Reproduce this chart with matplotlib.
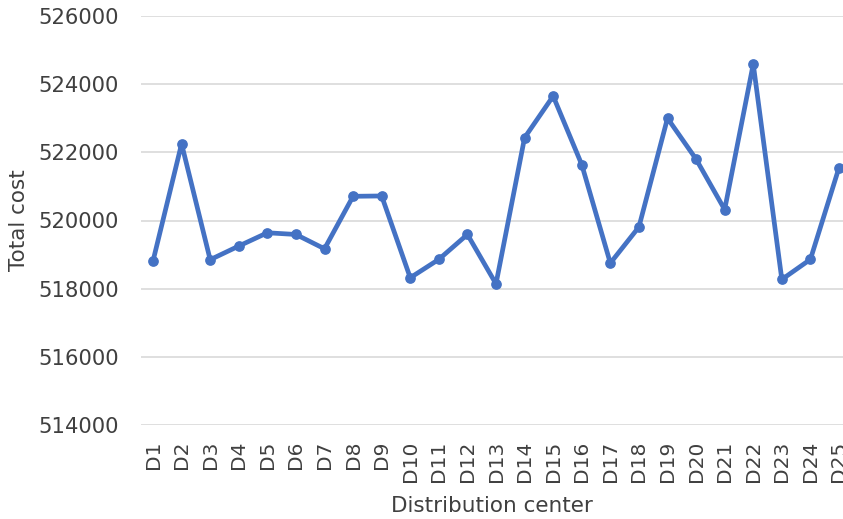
import matplotlib.pyplot as plt
import numpy as np

# total cost for each candidate distribution center
centers = ["D%d" % i for i in range(1, 26)]
total_cost = [518810, 522250, 518850, 519250, 519640, 519590, 519170, 520710,
              520720, 518320, 518860, 519590, 518140, 522430, 523650, 521640,
              518750, 519810, 523000, 521800, 520320, 524590, 518270, 518860,
              521550]
y_ticks = [514000, 516000, 518000, 520000, 522000, 524000, 526000]

W, H = 843, 519
fig = plt.figure(figsize=(W / 100, H / 100), dpi=100)
ax = fig.add_axes([141 / W, 1 - 425 / H, 1 - 141 / W, (425 - 16) / H])

x = np.arange(len(centers))
ax.plot(x, total_cost, color="#4472C4", linewidth=3.4, marker="o",
        markersize=6.7, solid_joinstyle="round", clip_on=False, zorder=3)

ax.set_ylim(514000, 526000)
ax.set_yticks(y_ticks)
ax.set_yticklabels([str(v) for v in y_ticks])
ax.set_xlim(-0.42, 24.14)
ax.set_xticks(x)
ax.set_xticklabels(centers, rotation=90)

ax.grid(axis="y", color="#D9D9D9", linewidth=1.2)
ax.set_axisbelow(True)
for s in ax.spines.values():
    s.set_visible(False)
ax.tick_params(axis="both", length=0, colors="#404040")
ax.tick_params(axis="y", labelsize=15.2, pad=15.8)
ax.tick_params(axis="x", labelsize=14.5, pad=11.5)

ax.set_ylabel("Total cost", fontsize=15.5, color="#404040", va="center")
ax.set_xlabel("Distribution center", fontsize=15.5, color="#404040", va="center")
ax.yaxis.set_label_coords(-0.1745, 0.5)
ax.xaxis.set_label_coords(0.5, -0.198)

fig.savefig("out.png", dpi=100)
